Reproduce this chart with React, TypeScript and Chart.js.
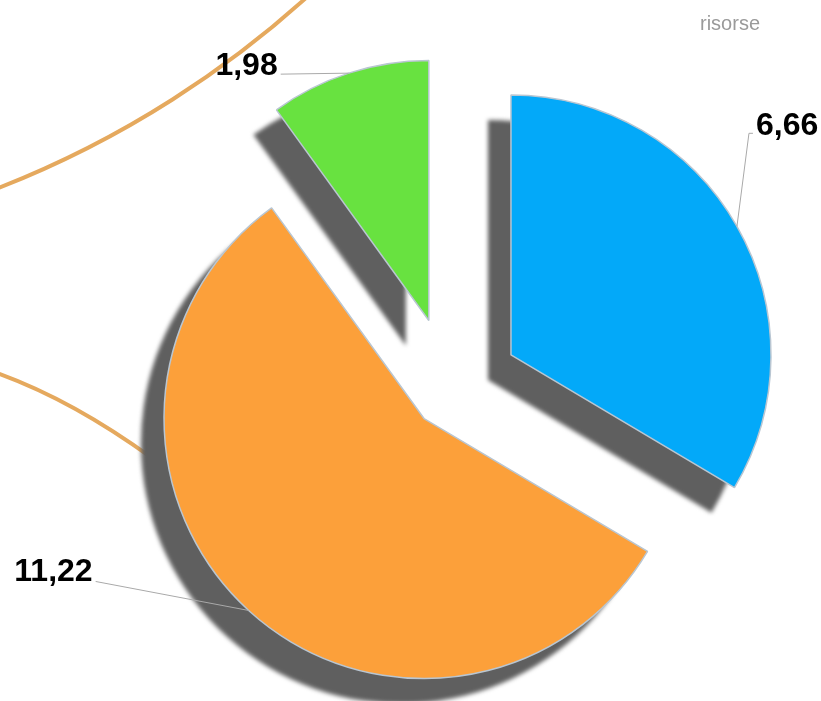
import { useEffect, useRef } from "react";
import { Chart, registerables } from "chart.js";

Chart.register(...registerables);

const categories = ["Risorsa A", "Risorsa B", "Risorsa C"];
const values = [6.66, 11.22, 1.98];
const seriesName = "risorse";

const sliceColors = ["#03A9F9", "#FCA03A", "#68E240"];
const explode = [69, 40, 72];
const SHADOW_DX = -23;
const SHADOW_DY = 25;

const fmt = (v: number) => v.toFixed(2).replace(".", ",");

// label leader geometry relative to the arc anchor point
const leaders = [
  { pts: [[12, -93], [16, -93]], align: "left", dx: 3, dy: 2 },
  { pts: [[-153, -29]], align: "right", dx: -3, dy: 0 },
  { pts: [[-68, 1]], align: "right", dx: -3, dy: 1 },
];

const explodePlugin = {
  id: "explodeSlices",
  afterDatasetsUpdate(chart: any) {
    const area = chart.chartArea;
    const cx = (area.left + area.right) / 2;
    const cy = (area.top + area.bottom) / 2;
    const meta = chart.getDatasetMeta(0);
    meta.data.forEach((arc: any, i: number) => {
      const mid = (arc.startAngle + arc.endAngle) / 2;
      arc.x = cx + Math.cos(mid) * explode[i];
      arc.y = cy + Math.sin(mid) * explode[i];
    });
  },
};

const backgroundPlugin = {
  id: "decorCurves",
  beforeDraw(chart: any) {
    const ctx = chart.ctx;
    ctx.save();
    ctx.strokeStyle = "#E5A95E";
    ctx.lineWidth = 4;
    ctx.lineCap = "round";
    ctx.beginPath();
    ctx.arc(-368, -749, 1006, (40 * Math.PI) / 180, (75 * Math.PI) / 180);
    ctx.stroke();
    ctx.beginPath();
    ctx.moveTo(-3, 373);
    ctx.quadraticCurveTo(72, 400, 152, 458);
    ctx.stroke();
    ctx.restore();
  },
};

const shadowPlugin = {
  id: "sliceShadows",
  beforeDatasetsDraw(chart: any) {
    const ctx = chart.ctx;
    const meta = chart.getDatasetMeta(0);
    ctx.save();
    ctx.filter = "blur(2px)";
    ctx.fillStyle = "#5f5f5f";
    meta.data.forEach((arc: any) => {
      ctx.beginPath();
      ctx.moveTo(arc.x + SHADOW_DX, arc.y + SHADOW_DY);
      ctx.arc(arc.x + SHADOW_DX, arc.y + SHADOW_DY, arc.outerRadius, arc.startAngle, arc.endAngle);
      ctx.closePath();
      ctx.fill();
    });
    ctx.restore();
  },
};

const labelPlugin = {
  id: "sliceLabels",
  afterDatasetsDraw(chart: any) {
    const ctx = chart.ctx;
    const meta = chart.getDatasetMeta(0);
    const data = chart.data.datasets[0].data as number[];
    ctx.save();
    meta.data.forEach((arc: any, i: number) => {
      const mid = (arc.startAngle + arc.endAngle) / 2;
      const ax = arc.x + Math.cos(mid) * arc.outerRadius;
      const ay = arc.y + Math.sin(mid) * arc.outerRadius;
      const L = leaders[i];
      ctx.strokeStyle = "#a9a9a9";
      ctx.lineWidth = 1;
      ctx.beginPath();
      ctx.moveTo(ax, ay);
      let ex = ax, ey = ay;
      L.pts.forEach((p) => {
        ex = ax + p[0];
        ey = ay + p[1];
        ctx.lineTo(ex, ey);
      });
      ctx.stroke();
      ctx.fillStyle = "#000";
      ctx.font = 'bold 32px "Liberation Sans", Arial, sans-serif';
      ctx.textAlign = L.align;
      ctx.textBaseline = "alphabetic";
      ctx.fillText(fmt(data[i]), ex + L.dx, ey + L.dy);
    });
    ctx.fillStyle = "#9a9a9a";
    ctx.font = '20px "Liberation Sans", Arial, sans-serif';
    ctx.textAlign = "center";
    ctx.fillText(seriesName, 730, 30);
    ctx.restore();
  },
};

export default function App() {
  const ref = useRef<HTMLCanvasElement | null>(null);
  useEffect(() => {
    if (!ref.current) return;
    const chart = new Chart(ref.current, {
      type: "pie",
      data: {
        labels: categories,
        datasets: [
          {
            label: seriesName,
            data: values,
            backgroundColor: sliceColors,
            borderColor: "rgba(185,198,210,1)",
            borderWidth: 1.5,
            radius: 260,
            clip: false,
          } as any,
        ],
      },
      plugins: [backgroundPlugin, explodePlugin, shadowPlugin, labelPlugin],
      options: {
        responsive: false,
        animation: false,
        events: [],
        layout: { padding: { left: 81, top: 77, right: 0, bottom: 0 } },
        plugins: {
          legend: { display: false },
          title: { display: false },
          tooltip: { enabled: false },
        },
      },
    });
    return () => chart.destroy();
  }, []);
  return (
    <div style={{ position: "absolute", left: 0, top: 0, width: 821, height: 701, background: "#fff" }}>
      <canvas ref={ref} width={821} height={701} />
    </div>
  );
}
